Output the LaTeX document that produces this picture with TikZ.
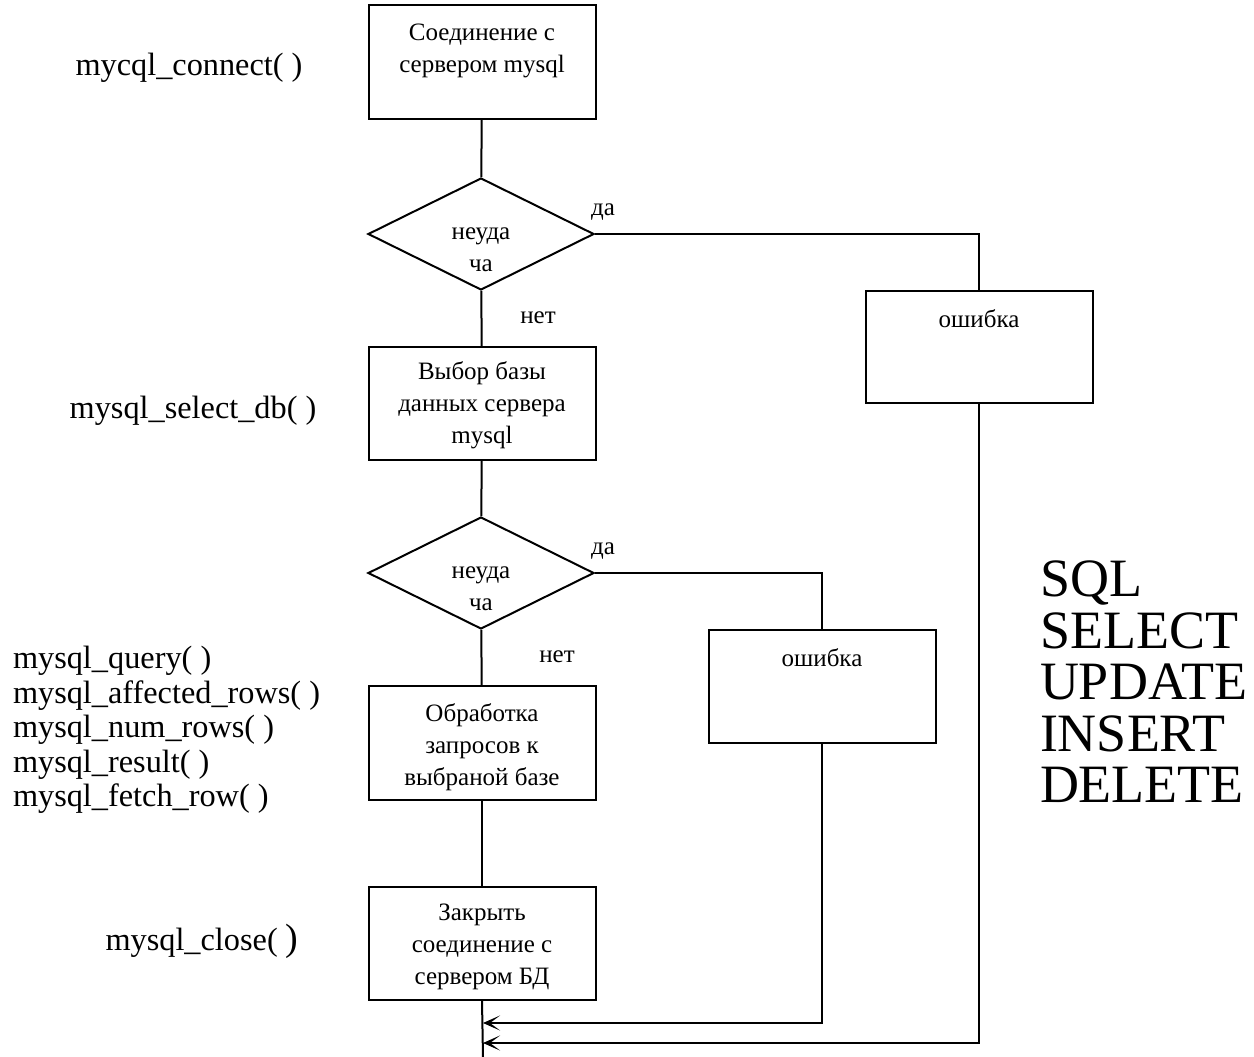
\documentclass[tikz,border=0pt]{standalone}
\usepackage{fontspec}
\setmainfont{Liberation Serif}
\usetikzlibrary{shapes.geometric,arrows.meta}
\begin{document}
\begin{tikzpicture}[x=1pt,y=-1pt, line width=2pt,
 box/.style={draw, rectangle, minimum width=227pt, minimum height=113pt, inner sep=0pt},
 dec/.style={draw, diamond, minimum width=226pt, minimum height=112pt, inner sep=0pt},
 txt/.style={font=\fontsize{25}{32}\selectfont, align=center, inner sep=0pt},
 lbl/.style={font=\fontsize{32.3}{34.5}\selectfont, inner sep=0pt},
 big/.style={font=\fontsize{54}{51.5}\selectfont, inner sep=0pt},
 arr/.style={-{Stealth[length=17pt,width=15pt,inset=10pt]}},
]
\useasboundingbox (0,0) rectangle (1254,1057);

% main column
\node[box, minimum height=114pt] (b1) at (482,62) {};
\node[txt] (t1) at (482,51) {Соединение с\\сервером mysql};
\node[dec] (d1) at (481,234) {};
\node[txt] (td1) at (481,250) {неуда\\ча};
\node[box] (b2) at (482,403.5) {};
\node[txt] (t2) at (482,405) {Выбор базы\\данных сервера\\mysql};
\node[dec] (d2) at (481,573) {};
\node[txt] (td2) at (481,589) {неуда\\ча};
\node[box, minimum height=114pt] (b3) at (482,743) {};
\node[txt] (t3) at (482,747) {Обработка\\запросов к\\выбраной базе};
\node[box] (b4) at (482,943.5) {};
\node[txt] (t4) at (482,947) {Закрыть\\соединение с\\сервером БД};

% error boxes
\node[box, minimum height=112pt] (e1) at (979,347) {};
\node[txt] (te1) at (979,319) {ошибка};
\node[box] (e2) at (822,686.5) {};
\node[txt] (te2) at (822,658) {ошибка};

% branch labels
\node[txt] (y1) at (603,212) {да};
\node[txt] (n1) at (538,318) {нет};
\node[txt] (y2) at (603,551) {да};
\node[txt] (n2) at (557,657) {нет};

% connectors
\coordinate (j1) at (483,1023);
\coordinate (j2) at (483,1043);
\coordinate (fin) at (483,1057);
\draw (b1) -- (d1);
\draw (d1) -- (b2);
\draw (b2) -- (d2);
\draw (d2) -- (b3);
\draw (b3) -- (b4);
\draw (b4.south) -- (fin);
\draw (d1.east) -| (e1.north);
\draw (d2.east) -| (e2.north);
\draw[arr] (e2.south) |- (j1);
\draw[arr] (e1.south) |- (j2);

% left labels
\node[lbl] (l1) at (189,68) {mycql\_connect( )};
\node[lbl] (l2) at (193,411) {mysql\_select\_db( )};
\node[lbl, align=left, anchor=west] (l3) at (12,730) {mysql\_query( )\\mysql\_affected\_rows( )\\mysql\_num\_rows( )\\mysql\_result( )\\mysql\_fetch\_row( )};
\node[lbl] (l4) at (202,941) {mysql\_close( {\fontsize{38}{38}\selectfont )}};

% right SQL list
\node[big, align=left, anchor=west] (sql) at (1039,682) {SQL\\SELECT\\UPDATE\\INSERT\\DELETE};
\end{tikzpicture}
\end{document}
